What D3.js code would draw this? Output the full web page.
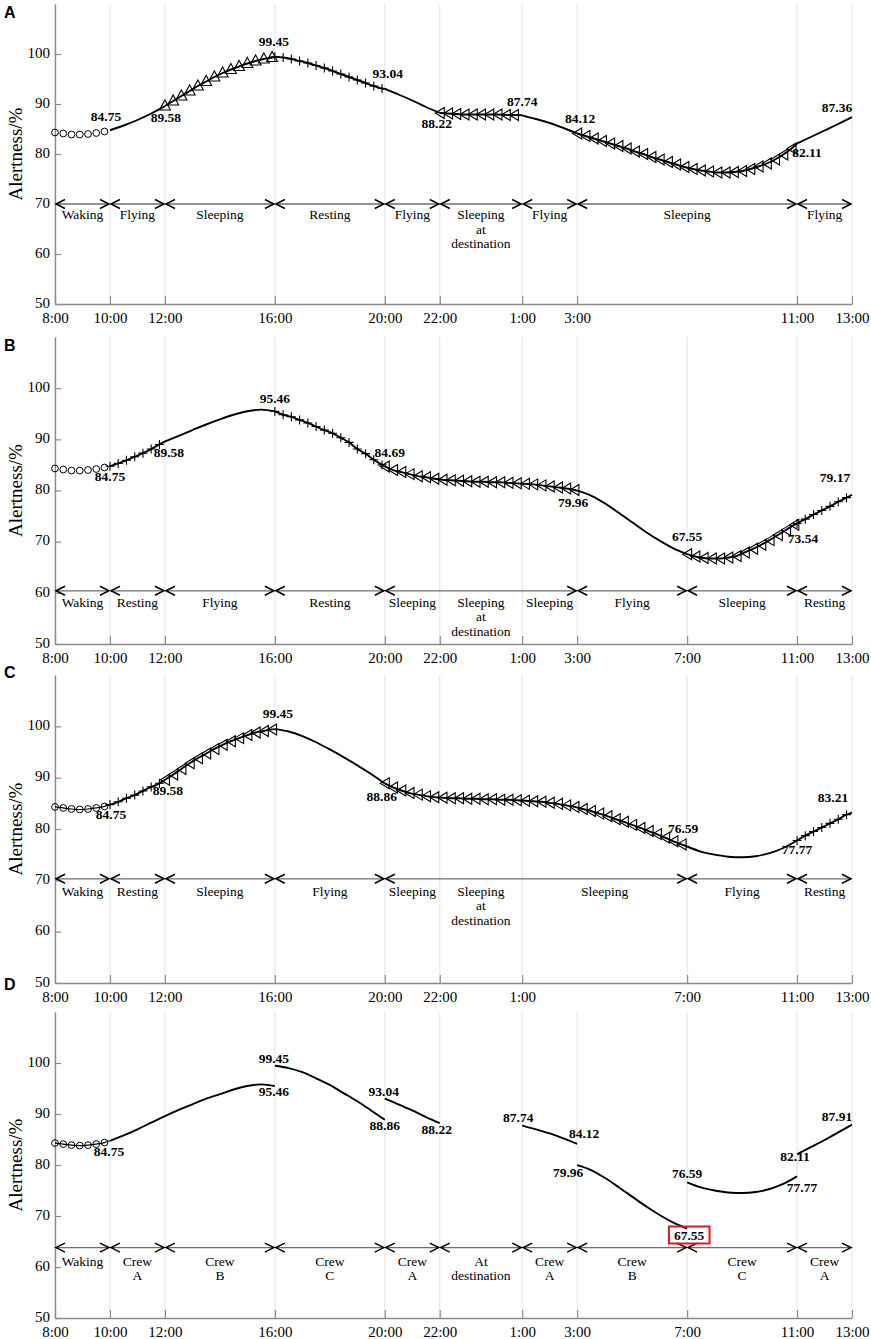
<!DOCTYPE html>
<html>
<head>
<meta charset="utf-8">
<script src="https://cdn.jsdelivr.net/npm/d3@7"></script>
<style>
  body { margin: 0; background: #fff; }
  text { font-family: "Liberation Serif", "Times New Roman", serif; }
</style>
</head>
<body>
<svg id="chart"></svg>
<script>
// time axis: hours after 8:00 on day one, and the clock labels
var tickHours  = [0, 2, 4, 8, 12, 14, 17, 19, 23, 27, 29];
var tickLabels = ["8:00", "10:00", "12:00", "16:00", "20:00", "22:00", "1:00", "3:00", "7:00", "11:00", "13:00"];
var yTicks = [50, 60, 70, 80, 90, 100];

// ---------- panel A ----------
var ticksA  = [0, 2, 4, 8, 12, 14, 17, 19, 27, 29];
var hoursA  = [0, 2, 4, 8, 12, 14, 17, 19, 27, 29];
var marksA  = ["o", "-", "^", "+", "-", "<", "-", "<", "-"];
var curveA0 = [84.3, 84.1, 83.9, 83.9, 84.0, 84.2, 84.5, 84.75];
var curveA1 = [84.75, 85.7, 86.8, 88.1, 89.58];
var curveA2 = [89.6, 90.6, 91.6, 92.6, 93.6, 94.5, 95.4, 96.2, 96.9, 97.5, 98.1, 98.6, 99.0, 99.3, 99.45];
var curveA3 = [99.45, 99.3, 99.0, 98.6, 98.2, 97.7, 97.2, 96.6, 96.0, 95.4, 94.8, 94.2, 93.6, 93.1, 93.04];
var curveA4 = [93.04, 91.9, 90.7, 89.4, 88.22];
var curveA5 = [88.2, 88.1, 88.0, 87.9, 87.9, 87.9, 87.9, 87.9, 87.8, 87.8, 87.74];
var curveA6 = [87.74, 87.0, 86.2, 85.2, 84.12];
var curveA7 = [84.1, 83.6, 83.1, 82.6, 82.1, 81.6, 81.1, 80.5, 80.0, 79.4, 78.9, 78.4, 77.9, 77.4,
               77.0, 76.7, 76.5, 76.3, 76.3, 76.4, 76.6, 77.0, 77.5, 78.1, 78.9, 79.9, 81.1, 82.11];
var curveA8 = [82.11, 83.4, 84.7, 86.0, 87.36];
var arrowsA = [0, 2, 4, 8, 12, 14, 17, 19, 27, 29];
var phaseHoursA = [0, 2, 4, 8, 12, 14, 17, 19, 27, 29];
var phasesA = ["Waking", "Flying", "Sleeping", "Resting", "Flying", "Sleeping\nat\ndestination", "Flying", "Sleeping", "Flying"];
var labelsA = [[2, 84.75], [4, 89.58], [8, 99.45], [12, 93.04], [14, 88.22], [17, 87.74], [19, 84.12], [27, 82.11], [29, 87.36]];

// ---------- panel B ----------
var ticksB  = [0, 2, 4, 8, 12, 14, 17, 19, 23, 27, 29];
var hoursB  = [0, 2, 4, 8, 12, 19, 23, 27, 29];
var marksB  = ["o", "+", "-", "+", "<", "-", "<", "+"];
var curveB0 = [84.3, 84.1, 83.9, 83.9, 84.0, 84.2, 84.5, 84.75];
var curveB1 = [84.75, 85.3, 85.9, 86.6, 87.3, 88.1, 89.0, 89.58];
var curveB2 = [89.58, 90.7, 91.8, 92.9, 93.9, 94.8, 95.5, 95.8, 95.46];
var curveB3 = [95.46, 94.8, 94.4, 93.8, 93.2, 92.5, 91.8, 91.2, 90.3, 89.4, 88.1, 87.2, 86.0, 85.0, 84.69];
var curveB4 = [84.7, 84.0, 83.6, 83.2, 82.8, 82.6, 82.3, 82.1, 82.0, 81.9, 81.8, 81.7, 81.7,
               81.6, 81.6, 81.5, 81.4, 81.3, 81.2, 81.0, 80.8, 80.6, 80.4, 80.1, 79.96];
var curveB5 = [79.96, 79.0, 77.5, 75.7, 73.8, 71.9, 70.2, 68.7, 67.55];
var curveB6 = [67.55, 67.1, 66.8, 66.7, 66.7, 66.9, 67.2, 67.9, 68.6, 69.4, 70.3, 71.3, 72.3, 73.3, 73.54];
var curveB7 = [73.54, 74.4, 75.3, 76.1, 76.9, 77.8, 78.6, 79.17];
var arrowsB = [0, 2, 4, 8, 12, 19, 23, 27, 29];
var phaseHoursB = [0, 2, 4, 8, 12, 14, 17, 19, 23, 27, 29];
var phasesB = ["Waking", "Resting", "Flying", "Resting", "Sleeping", "Sleeping\nat\ndestination", "Sleeping", "Flying", "Sleeping", "Resting"];
var labelsB = [[2, 84.75], [4, 89.58], [8, 95.46], [12, 84.69], [19, 79.96], [23, 67.55], [27, 73.54], [29, 79.17]];

// ---------- panel C ----------
var ticksC  = [0, 2, 4, 8, 12, 14, 17, 23, 27, 29];
var hoursC  = [0, 2, 4, 8, 12, 23, 27, 29];
var marksC  = ["o", "+", "<", "-", "<", "-", "+"];
var curveC0 = [84.3, 84.1, 83.9, 83.8, 83.9, 84.1, 84.4, 84.75];
var curveC1 = [84.75, 85.3, 86.0, 86.6, 87.4, 88.2, 88.9, 89.58];
var curveC2 = [89.6, 90.6, 91.7, 92.8, 93.8, 94.7, 95.6, 96.4, 97.1, 97.7, 98.3, 98.8, 99.1, 99.4, 99.45];
var curveC3 = [99.45, 99.0, 98.1, 96.9, 95.5, 94.0, 92.4, 90.7, 88.86];
var curveC4 = [88.9, 88.1, 87.5, 87.0, 86.7, 86.4, 86.2, 86.1, 86.0, 86.0, 85.9, 85.9, 85.8, 85.8, 85.7,
               85.7, 85.6, 85.5, 85.4, 85.3, 85.1, 84.9, 84.6, 84.3, 83.9, 83.5, 83.0, 82.5, 81.9, 81.4,
               80.8, 80.2, 79.6, 79.0, 78.3, 77.6, 77.0, 76.59];
var curveC5 = [76.59, 75.6, 75.0, 74.6, 74.5, 74.7, 75.3, 76.3, 77.77];
var curveC6 = [77.77, 78.7, 79.5, 80.3, 81.1, 81.9, 82.8, 83.21];
var arrowsC = [0, 2, 4, 8, 12, 23, 27, 29];
var phaseHoursC = [0, 2, 4, 8, 12, 14, 17, 23, 27, 29];
var phasesC = ["Waking", "Resting", "Sleeping", "Flying", "Sleeping", "Sleeping\nat\ndestination", "Sleeping", "Flying", "Resting"];
var labelsC = [[2, 84.75], [4, 89.58], [8, 99.45], [12, 88.86], [23, 76.59], [27, 77.77], [29, 83.21]];

// ---------- panel D ----------
var ticksD  = [0, 2, 4, 8, 12, 14, 17, 19, 23, 27, 29];
var hoursD  = [0, 2, 8, 12, 14, 17, 19, 23, 27, 29];
var marksD  = ["o", "-", "-", "-", null, "-", "-", "-", "-"];
var curveD0 = [84.3, 84.1, 83.9, 83.8, 83.9, 84.1, 84.4, 84.75];
var curveD1 = [84.75, 85.8, 87.0, 88.3, 89.58, 90.8, 91.9, 93.0, 93.9, 94.8, 95.5, 95.8, 95.46];
var curveD2 = [99.45, 99.0, 98.2, 97.0, 95.7, 94.1, 92.5, 90.7, 88.86];
var curveD3 = [93.04, 91.9, 90.7, 89.4, 88.22];
var curveD5 = [87.74, 87.0, 86.2, 85.2, 84.12];
var curveD6 = [79.96, 79.0, 77.5, 75.7, 73.8, 71.9, 70.2, 68.7, 67.55];
var curveD7 = [76.59, 75.6, 75.0, 74.6, 74.5, 74.7, 75.3, 76.3, 77.77];
var curveD8 = [82.11, 83.5, 84.9, 86.4, 87.91];
var arrowsD = [0, 2, 4, 8, 12, 14, 17, 19, 23, 27, 29];
var phaseHoursD = [0, 2, 4, 8, 12, 14, 17, 19, 23, 27, 29];
var phasesD = ["Waking", "Crew\nA", "Crew\nB", "Crew\nC", "Crew\nA", "At\ndestination", "Crew\nA", "Crew\nB", "Crew\nC", "Crew\nA"];
var labelsD = [[2, 84.75], [8, 99.45], [8, 95.46], [12, 93.04], [12, 88.86], [14, 88.22], [17, 87.74],
               [19, 84.12], [19, 79.96], [23, 67.55], [23, 76.59], [27, 82.11], [27, 77.77], [29, 87.91]];
var boxedD = "67.55";

// ---------- layout (pixel offsets, kept apart from the data) ----------
var offsA = [[-4, -9], [1, 16], [-1, -11], [3, -11], [-3, 15], [0, -9], [3, -10], [10, 14], [-15, -5]];
var offsB = [[0, 15], [4, 16], [0, -8], [5, -10], [-4, 16], [0, -13], [6, 19], [-17, -13]];
var offsC = [[1, 14], [3, 15], [3, -11], [-3, 17], [-4, -14], [0, 14], [-19, -11]];
var offsD = [[-1, 15], [-1, -3], [-1, 10], [-1, -2], [0, 10], [-3, 11], [-4, -4], [7, -6], [-9, 12],
             [2, 12], [0, -4], [-2, 7], [5, 16], [-15, -4]];

var panels = [
  { letter: "A", top: 4,    bottom: 304,  level: 70,   textDy: 15, letterY: 18,  dotLine: false,
    ticks: ticksA, hours: hoursA, marks: marksA,
    curves: [curveA0, curveA1, curveA2, curveA3, curveA4, curveA5, curveA6, curveA7, curveA8],
    arrows: arrowsA, phaseHours: phaseHoursA, phases: phasesA, labels: labelsA, offs: offsA },
  { letter: "B", top: 337,  bottom: 644,  level: 60.4, textDy: 16, letterY: 351, dotLine: false,
    ticks: ticksB, hours: hoursB, marks: marksB,
    curves: [curveB0, curveB1, curveB2, curveB3, curveB4, curveB5, curveB6, curveB7],
    arrows: arrowsB, phaseHours: phaseHoursB, phases: phasesB, labels: labelsB, offs: offsB },
  { letter: "C", top: 675,  bottom: 983,  level: 70.3, textDy: 17, letterY: 678, dotLine: true,
    ticks: ticksC, hours: hoursC, marks: marksC,
    curves: [curveC0, curveC1, curveC2, curveC3, curveC4, curveC5, curveC6],
    arrows: arrowsC, phaseHours: phaseHoursC, phases: phasesC, labels: labelsC, offs: offsC },
  { letter: "D", top: 1012, bottom: 1318, level: 63.8, textDy: 18, letterY: 990, dotLine: true,
    ticks: ticksD, hours: hoursD, marks: marksD,
    curves: [curveD0, curveD1, curveD2, curveD3, null, curveD5, curveD6, curveD7, curveD8],
    arrows: arrowsD, phaseHours: phaseHoursD, phases: phasesD, labels: labelsD, offs: offsD, boxed: boxedD }
];

var MARK_STEP = 0.3;   // hours between markers on a marked segment

var markerPath = {
  "^": "M0,-6L5.5,4L-5.5,4Z",
  "<": "M-4.5,0L4.5,-5.5L4.5,5.5Z",
  "+": "M-4.5,0H4.5M0,-4.5V4.5"
};

var svg = d3.select("#chart")
    .attr("width", 871)
    .attr("height", 1339);

var x = d3.scaleLinear().domain([0, 29]).range([55, 852]);

function tickLabel(h) { return tickLabels[tickHours.indexOf(h)]; }

panels.forEach(function(p) {
  var y = d3.scaleLinear().domain([50, 110]).range([p.bottom, p.top]);
  var g = svg.append("g");

  // light vertical grid at each time tick
  g.selectAll(".grid")
    .data(p.ticks)
    .enter().append("line")
      .attr("x1", function(d) { return x(d); })
      .attr("x2", function(d) { return x(d); })
      .attr("y1", p.top)
      .attr("y2", p.bottom)
      .attr("stroke", "#e4e4e4")
      .attr("stroke-width", 1);

  // x axis, ticks pointing inward
  var xa = g.append("g")
    .attr("transform", "translate(0," + p.bottom + ")")
    .call(d3.axisBottom(x).tickValues(p.ticks).tickFormat(tickLabel)
      .tickSizeInner(-8).tickSizeOuter(0).tickPadding(8));

  // y axis
  var ya = g.append("g")
    .attr("transform", "translate(" + x(0) + ",0)")
    .call(d3.axisLeft(y).tickValues(yTicks)
      .tickSizeInner(-6).tickSizeOuter(0).tickPadding(5));

  [xa, ya].forEach(function(a) {
    a.select(".domain").attr("stroke", "#8c8c8c").attr("stroke-width", 1.4);
    a.selectAll(".tick line").attr("stroke", "#8c8c8c").attr("stroke-width", 1.2);
    a.selectAll(".tick text")
      .attr("fill", "#000")
      .style("font-family", "'Liberation Serif', 'Times New Roman', serif")
      .style("font-size", "15px");
  });
  ya.selectAll(".tick text").attr("dy", "0.22em");

  // y axis title
  g.append("text")
    .attr("transform", "translate(22," + ((p.top + p.bottom) / 2) + ") rotate(-90)")
    .attr("text-anchor", "middle")
    .style("font-size", "19px")
    .text("Alertness/%");

  // panel letter
  g.append("text")
    .attr("x", 4)
    .attr("y", p.letterY)
    .style("font-family", "'Liberation Sans', Arial, sans-serif")
    .style("font-weight", "bold")
    .style("font-size", "16px")
    .text(p.letter);

  // phase arrows
  var ly = y(p.level);
  for (var i = 0; i < p.arrows.length - 1; i++) {
    var a = x(p.arrows[i]) + 1, b = x(p.arrows[i + 1]) - 1;
    g.append("line")
      .attr("x1", a).attr("x2", b).attr("y1", ly).attr("y2", ly)
      .attr("stroke", "#6e6e6e").attr("stroke-width", 1.3);
    g.append("path")
      .attr("d", "M" + (a + 9) + "," + (ly - 4.5) + "L" + a + "," + ly + "L" + (a + 9) + "," + (ly + 4.5) +
                 "M" + (b - 9) + "," + (ly - 4.5) + "L" + b + "," + ly + "L" + (b - 9) + "," + (ly + 4.5))
      .attr("fill", "none").attr("stroke", "#000").attr("stroke-width", 1.5);
  }

  // phase names under the arrows
  p.phases.forEach(function(name, k) {
    var cx = (x(p.phaseHours[k]) + x(p.phaseHours[k + 1])) / 2;
    var t = g.append("text")
      .attr("text-anchor", "middle")
      .style("font-size", "13.5px");
    name.split("\n").forEach(function(line, j) {
      t.append("tspan").attr("x", cx).attr("y", ly + p.textDy + j * 14.5).text(line);
    });
  });

  // alertness curve, segment by segment
  var line = d3.line()
    .x(function(d) { return x(d[0]); })
    .y(function(d) { return y(d[1]); })
    .curve(d3.curveMonotoneX);

  p.curves.forEach(function(vals, k) {
    if (!vals) return;
    var t0 = p.hours[k], t1 = p.hours[k + 1], m = p.marks[k], n = vals.length;
    var pts = vals.map(function(v, i) {
      var t;
      if (i === n - 1) t = t1;
      else if (m === "-") t = t0 + (t1 - t0) * i / (n - 1);
      else t = t0 + i * MARK_STEP;
      return [t, v];
    });

    // in A and B the waking dots stand alone, without a joining line
    if (m !== "o" || p.dotLine) {
      g.append("path")
        .datum(pts)
        .attr("fill", "none")
        .attr("stroke", "#000")
        .attr("stroke-width", m === "o" ? 1.2 : 1.9)
        .attr("d", line);
    }

    if (m === "-") return;
    var marked = pts.slice(0, n - 1);
    if (m === "o") {
      g.selectAll(null).data(marked).enter().append("circle")
        .attr("cx", function(d) { return x(d[0]); })
        .attr("cy", function(d) { return y(d[1]); })
        .attr("r", 3.4)
        .attr("fill", "none")
        .attr("stroke", "#000")
        .attr("stroke-width", 1);
    } else {
      g.selectAll(null).data(marked).enter().append("path")
        .attr("transform", function(d) { return "translate(" + x(d[0]) + "," + y(d[1]) + ")"; })
        .attr("d", markerPath[m])
        .attr("fill", "none")
        .attr("stroke", "#000")
        .attr("stroke-width", 1.1);
    }
  });

  // value labels
  p.labels.forEach(function(d, k) {
    var txt = d[1].toFixed(2);
    var t = g.append("text")
      .attr("x", x(d[0]) + p.offs[k][0])
      .attr("y", y(d[1]) + p.offs[k][1])
      .attr("text-anchor", "middle")
      .style("font-weight", "bold")
      .style("font-size", "13.5px")
      .text(txt);
    if (p.boxed === txt) {
      var bb = t.node().getBBox();
      g.append("rect")
        .attr("x", bb.x - 5).attr("y", bb.y - 2)
        .attr("width", bb.width + 10).attr("height", bb.height + 2)
        .attr("fill", "none")
        .attr("stroke", "#e8141b")
        .attr("stroke-width", 2);
    }
  });
});
</script>
</body>
</html>
